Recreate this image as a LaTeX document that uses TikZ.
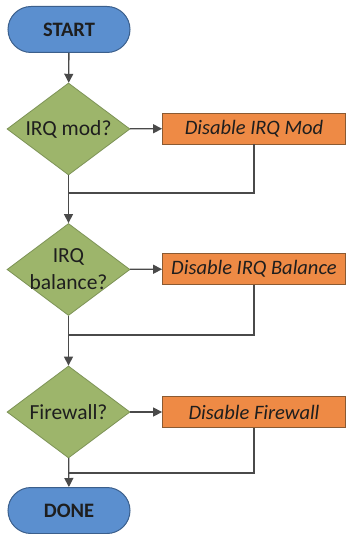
\documentclass[tikz,border=0pt]{standalone}
\usepackage{fontspec}
\setmainfont{Carlito}
\usetikzlibrary{shapes.geometric,shapes.misc,arrows.meta}
\definecolor{pillfill}{HTML}{5B8FCF}
\definecolor{pilledge}{HTML}{3B5F8C}
\definecolor{decfill}{HTML}{9DB56B}
\definecolor{decedge}{HTML}{7D9356}
\definecolor{actfill}{HTML}{EE8A45}
\definecolor{actedge}{HTML}{8A5A32}
\definecolor{wire}{HTML}{4A4A4A}
\definecolor{ink}{HTML}{1E1E1E}
\begin{document}
\begin{tikzpicture}[x=1pt,y=-1pt,
  terminal/.style={rounded rectangle, draw=pilledge, line width=1pt, fill=pillfill,
    minimum width=122pt, minimum height=46pt, inner sep=0pt,
    font=\fontsize{20.5}{22}\selectfont\bfseries, text=ink},
  decision/.style={diamond, draw=decedge, line width=0.8pt, fill=decfill,
    minimum width=123pt, minimum height=92pt, inner sep=0pt, aspect=1.34,
    font=\fontsize{21.5}{27}\selectfont, text=ink, align=center},
  action/.style={rectangle, draw=actedge, line width=0.8pt, fill=actfill,
    minimum width=183pt, minimum height=31pt, inner sep=0pt,
    font=\fontsize{20.5}{22}\selectfont\itshape, text=ink},
  flow/.style={draw=wire, line width=1.3pt, -{Triangle[length=9pt,width=9pt]}},
  mergeline/.style={draw=wire, line width=1.3pt}]
\useasboundingbox (0,0) rectangle (345,534);

\node[terminal] (start) at (69,29.5) {START};
\node[decision] (d1) at (68.5,129) {IRQ mod?};
\node[action] (a1) at (254,128.5) {Disable IRQ Mod};
% two-line label: negative inner sep keeps the diamond at the common size
\node[decision, inner sep=-8pt] (d2) at (68.5,269.5) {IRQ\\balance?};
\node[action] (a2) at (254,269) {Disable IRQ Balance};
\node[decision] (d3) at (68.5,412) {Firewall?};
\node[action] (a3) at (254,412) {Disable Firewall};
\node[terminal] (done) at (69,510.5) {DONE};

\coordinate (m1) at (68.5,193);
\coordinate (m2) at (68.5,335);
\coordinate (m3) at (68.5,473);

\draw[flow] (start) -- (d1);
\draw[flow] (d1) -- (a1);
\draw[flow] (d1) -- (d2);
\draw[mergeline] (a1.south) |- (m1);
\draw[flow] (d2) -- (a2);
\draw[flow] (d2) -- (d3);
\draw[mergeline] (a2.south) |- (m2);
\draw[flow] (d3) -- (a3);
\draw[flow] (d3) -- (done);
\draw[mergeline] (a3.south) |- (m3);
\end{tikzpicture}
\end{document}
